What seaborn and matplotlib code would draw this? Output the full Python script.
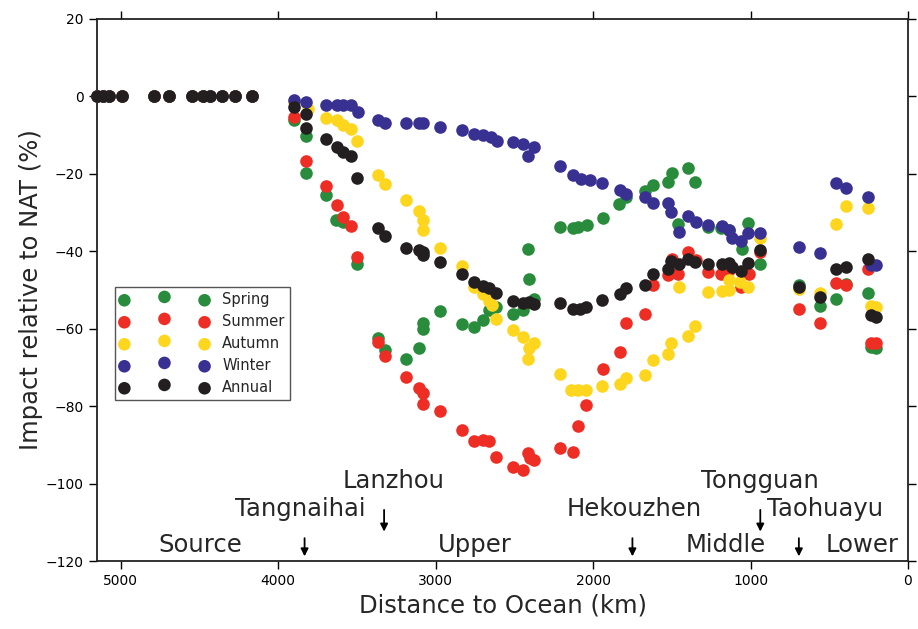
import matplotlib
matplotlib.use("Agg")
import matplotlib.pyplot as plt
import seaborn as sns
import pandas as pd

# ---------------- data ----------------
zero_km = [5150, 5113, 5077, 4990, 4791, 4696, 4544, 4474, 4431, 4355, 4277, 4163]

spring_km = [3902, 3826, 3826, 3699, 3631, 3589, 3498, 3367, 3324, 3187, 3107, 3081, 3081,
             2969, 2834, 2757, 2696, 2658, 2615, 2510, 2446, 2415, 2408, 2372, 2213, 2129,
             2097, 2040, 1938, 1837, 1790, 1669, 1621, 1526, 1500, 1458, 1399, 1350, 1272,
             1187, 1134, 1056, 1018, 939, 694, 558, 456, 393, 256, 234, 204]
spring_val = [-6.2, -10.1, -19.9, -25.5, -31.8, -32.4, -43.2, -62.3, -65.4, -67.9, -65.1, -58.5, -60.2,
              -55.5, -58.9, -59.5, -57.8, -55.2, -54.4, -56.3, -55.2, -39.4, -47.2, -52.2, -33.7, -33.9,
              -33.7, -33.3, -31.3, -27.7, -26.0, -24.4, -23.0, -22.1, -19.8, -33.0, -18.5, -22.2, -33.7,
              -34.1, -34.6, -39.3, -32.7, -43.2, -48.8, -54.1, -52.4, -48.5, -50.8, -64.7, -64.9]

summer_km = [3902, 3826, 3699, 3627, 3585, 3536, 3498, 3367, 3324, 3187, 3107, 3081, 3081,
             2969, 2834, 2757, 2696, 2658, 2615, 2510, 2446, 2415, 2400, 2372, 2213, 2129,
             2097, 2044, 1938, 1832, 1790, 1669, 1621, 1526, 1500, 1458, 1399, 1345, 1272,
             1187, 1134, 1060, 1011, 943, 694, 558, 456, 393, 256, 234, 204]
summer_val = [-5.3, -16.8, -23.2, -28.1, -31.1, -33.5, -41.6, -63.4, -67.1, -72.4, -75.4, -76.7, -79.5,
              -81.3, -86.2, -89.0, -88.8, -89.0, -93.1, -95.7, -96.5, -92.0, -93.3, -93.9, -90.8, -91.8,
              -85.1, -79.7, -70.3, -66.0, -58.4, -56.3, -48.6, -46.2, -42.1, -45.9, -40.2, -42.3, -45.3,
              -45.8, -44.9, -49.2, -45.8, -40.2, -55.0, -58.4, -48.2, -48.8, -44.5, -63.7, -63.8]

autumn_km = [3902, 3813, 3699, 3627, 3585, 3536, 3498, 3367, 3324, 3187, 3107, 3077, 3077,
             2969, 2834, 2757, 2696, 2658, 2643, 2615, 2510, 2446, 2408, 2372, 2415, 2213,
             2139, 2097, 2044, 1942, 1832, 1790, 1667, 1621, 1526, 1504, 1394, 1350, 1456,
             1272, 1183, 1134, 1134, 1070, 1018, 939, 694, 558, 456, 393, 256, 234, 204]
autumn_val = [-1.5, -3.2, -5.5, -6.2, -7.5, -8.3, -11.5, -20.4, -22.7, -26.7, -29.7, -31.8, -34.4,
              -39.1, -43.9, -49.2, -51.1, -52.8, -53.9, -57.4, -60.4, -62.1, -65.1, -63.8, -67.9, -71.8,
              -75.9, -75.9, -75.9, -74.8, -74.4, -72.7, -72.0, -68.1, -66.6, -63.6, -61.9, -59.4, -49.2,
              -50.5, -50.2, -50.1, -47.5, -47.9, -49.2, -36.5, -49.8, -50.9, -32.9, -28.3, -28.8, -54.2, -54.4]

winter_km = [3902, 3825, 3699, 3627, 3585, 3536, 3494, 3367, 3324, 3187, 3107, 3077, 2969,
             2833, 2757, 2696, 2647, 2611, 2510, 2446, 2372, 2415, 2213, 2129, 2076, 2022,
             1942, 1832, 1790, 1667, 1621, 1526, 1504, 1456, 1394, 1348, 1267, 1183, 1134,
             1117, 1060, 1018, 939, 694, 558, 456, 393, 256, 234, 204]
winter_val = [-0.8, -1.5, -2.1, -2.1, -2.1, -2.1, -3.9, -6.0, -6.8, -6.9, -6.9, -6.9, -7.9,
              -8.6, -9.6, -9.9, -10.5, -11.6, -11.8, -12.2, -13.1, -15.4, -18.0, -20.2, -21.2, -21.5,
              -22.3, -24.1, -25.3, -26.1, -27.4, -27.5, -29.8, -34.9, -31.0, -32.5, -33.1, -33.5, -34.6,
              -36.5, -37.3, -35.3, -35.3, -39.0, -40.4, -22.4, -23.7, -26.1, -43.6, -43.6]

annual_km = [3902, 3826, 3826, 3699, 3627, 3585, 3536, 3498, 3367, 3324, 3187, 3107, 3077, 3077,
             2969, 2834, 2757, 2696, 2658, 2615, 2510, 2446, 2408, 2372, 2213, 2129, 2086, 2044,
             1942, 1832, 1790, 1667, 1621, 1526, 1504, 1456, 1394, 1350, 1267, 1183, 1134, 1117,
             1060, 1018, 939, 694, 558, 456, 393, 256, 234, 204]
annual_val = [-2.8, -4.5, -8.2, -11.1, -13.1, -14.4, -15.5, -21.1, -34.0, -36.1, -39.1, -39.7, -40.2, -41.0,
              -42.8, -45.9, -47.9, -49.0, -49.4, -50.9, -52.9, -53.3, -53.1, -53.7, -53.3, -55.0, -54.8, -54.4,
              -52.5, -51.1, -49.4, -48.6, -45.9, -44.5, -42.5, -43.2, -41.9, -42.8, -43.2, -43.4, -42.9, -44.0,
              -45.1, -43.0, -39.6, -49.2, -51.8, -44.5, -44.1, -42.1, -56.5, -57.0]

seasons = ["Spring", "Summer", "Autumn", "Winter", "Annual"]
colors = ["#288c3c", "#ee2e24", "#ffd61e", "#393191", "#231f20"]

station_names = ["Tangnaihai", "Lanzhou", "Hekouzhen", "Tongguan", "Taohuayu"]
station_km = [3832, 3327, 1750, 938, 693]
reach_names = ["Source", "Upper", "Middle", "Lower"]

series = {
    "Spring": (spring_km, spring_val),
    "Summer": (summer_km, summer_val),
    "Autumn": (autumn_km, autumn_val),
    "Winter": (winter_km, winter_val),
    "Annual": (annual_km, annual_val),
}

frames = []
for s in seasons:
    km, val = series[s]
    frames.append(pd.DataFrame({"distance": zero_km + km,
                                "impact": [0.0] * len(zero_km) + val,
                                "season": s}))
df = pd.concat(frames, ignore_index=True)

# ---------------- plot ----------------
sns.set_theme(style="ticks")
plt.rcParams["font.family"] = ["DejaVu Sans"]
plt.rcParams["axes.unicode_minus"] = True

fig = plt.figure(figsize=(9.18, 6.29), dpi=100)
ax = fig.add_axes([0.1057, 0.1081, 0.8834, 0.8617])

for s, c in zip(seasons, colors):
    sub = df[df["season"] == s]
    sns.scatterplot(data=sub, x="distance", y="impact", color=c, s=82,
                    linewidth=0, label=s, ax=ax, clip_on=False, zorder=3)

ax.set_xlim(5150, 0)
ax.set_ylim(-120, 20)
ax.set_xticks([5000, 4000, 3000, 2000, 1000, 0])
ax.set_yticks(range(-120, 21, 20))
ax.tick_params(axis="both", which="major", direction="out", length=6, width=1,
               labelsize=10, colors="black", top=True, right=True)
for sp in ax.spines.values():
    sp.set_visible(True)
    sp.set_linewidth(1.3)
    sp.set_color("#222222")

ax.set_xlabel("Distance to Ocean (km)", fontsize=17.5, labelpad=4)
ax.set_ylabel("Impact relative to NAT (%)", fontsize=17.5, labelpad=2)

# station annotations
label_x = [3858, 3267, 1737, 943, 524]
label_y = [-106.6, -99.4, -106.6, -99.4, -106.6]
arrow_top = [-114.1, -106.8, -114.1, -106.8, -114.1]
arrow_bot = [-118.8, -112.4, -118.8, -112.4, -118.8]
for name, xk, lx, ly, at, ab in zip(station_names, station_km, label_x, label_y, arrow_top, arrow_bot):
    ax.text(lx, ly, name, fontsize=17.5, ha="center", va="center")
    ax.annotate("", xy=(xk, ab), xytext=(xk, at),
                arrowprops=dict(arrowstyle="-|>", color="black", lw=1.3, mutation_scale=11,
                                shrinkA=0, shrinkB=0))

reach_x = [4493, 2753, 1159, 290]
for name, rx in zip(reach_names, reach_x):
    ax.text(rx, -115.9, name, fontsize=17.5, ha="center", va="center")

leg = ax.legend(loc="upper left", bbox_to_anchor=(0.022, 0.506), borderaxespad=0,
                scatterpoints=3, scatteryoffsets=[0.35, 0.68, 0.35], fontsize=10.5,
                handlelength=6.1, handletextpad=0.9, labelspacing=0.48, borderpad=0.35,
                fancybox=False, framealpha=1, edgecolor="#555555")
leg.get_frame().set_linewidth(1.0)

fig.savefig("out.png", dpi=100)
